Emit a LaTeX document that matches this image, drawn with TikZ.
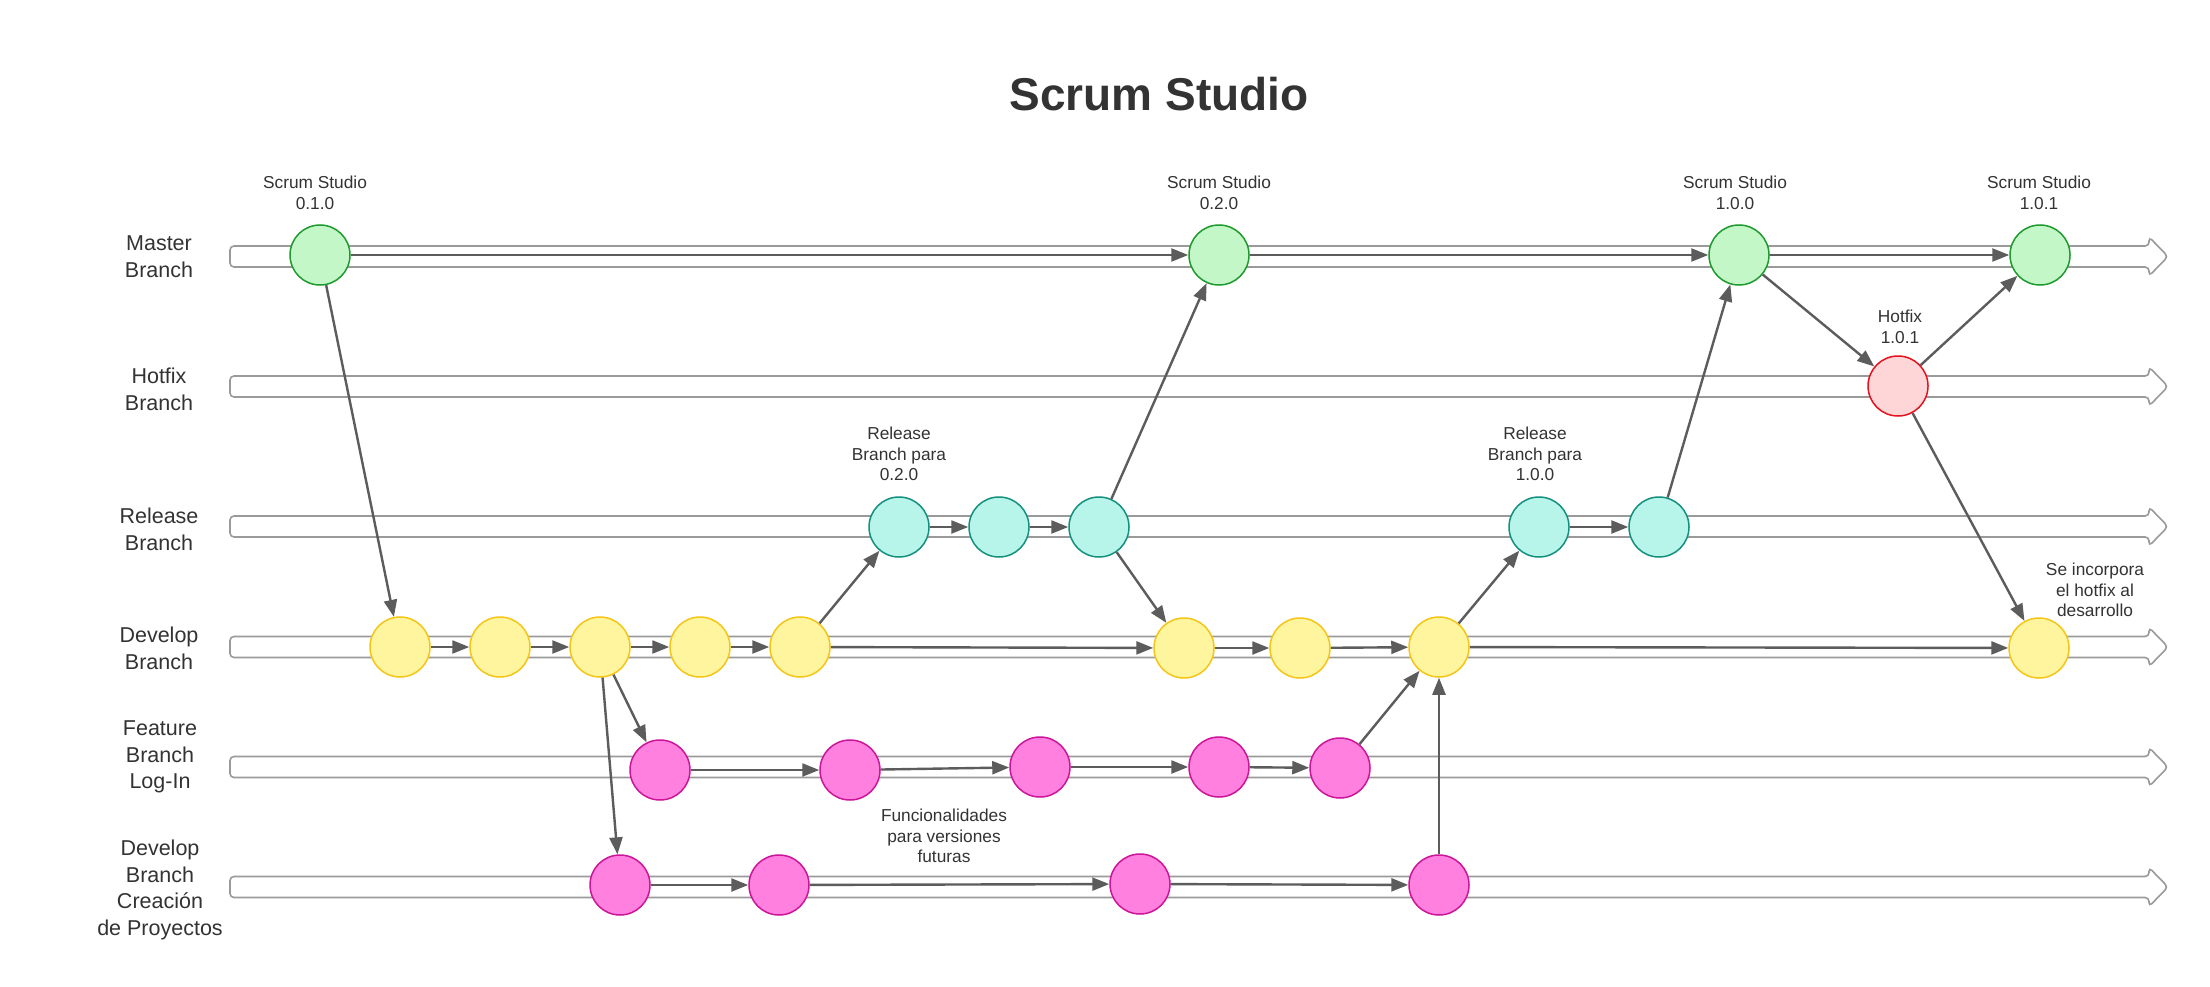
\documentclass[tikz,border=0pt]{standalone}
\usepackage{fontspec}
\setmainfont{Liberation Sans}
\usetikzlibrary{arrows.meta}
\definecolor{txt}{HTML}{333333}
\definecolor{lanegray}{HTML}{9A9A9A}
\definecolor{conn}{HTML}{5C5C5C}
\definecolor{gfill}{HTML}{C3F7C8}\definecolor{gdraw}{HTML}{1E9A2E}
\definecolor{hfill}{HTML}{FFD6D8}\definecolor{hdraw}{HTML}{E4121E}
\definecolor{cfill}{HTML}{B7F4EA}\definecolor{cdraw}{HTML}{14907F}
\definecolor{yfill}{HTML}{FFF59E}\definecolor{ydraw}{HTML}{F5C518}
\definecolor{mfill}{HTML}{FF80DE}\definecolor{mdraw}{HTML}{CC1599}
\tikzset{
  commit/.style={circle, minimum size=60pt, inner sep=0pt, line width=1.5pt},
  gnode/.style={commit, fill=gfill, draw=gdraw},
  hnode/.style={commit, fill=hfill, draw=hdraw},
  cnode/.style={commit, fill=cfill, draw=cdraw},
  ynode/.style={commit, fill=yfill, draw=ydraw},
  mnode/.style={commit, fill=mfill, draw=mdraw},
  lanebox/.style={draw=lanegray, fill=white, line width=1.6pt, rounded corners=4pt},
  conn/.style={draw=conn, line width=2.4pt, -{Triangle[length=17pt,width=13pt]}},
  lbl/.style={text=txt, align=center, inner sep=0pt, font=\fontsize{17.3}{20.5}\selectfont},
  lanelbl/.style={text=txt, align=center, inner sep=0pt, font=\fontsize{21.5}{26.7}\selectfont},
}
\newcommand{\lane}[1]{%
  \path[lanebox] (230,#1-10.5) -- (2149,#1-10.5) -- (2149,#1-19.5) -- (2168,#1) -- (2149,#1+19.5) -- (2149,#1+10.5) -- (230,#1+10.5) -- cycle;}
\begin{document}
\begin{tikzpicture}[x=1pt,y=-1pt]
\useasboundingbox (0,0) rectangle (2210,987);
\fill[white] (0,0) rectangle (2210,987);
% title
\node[text=txt, font=\fontsize{46}{52}\selectfont\bfseries, inner sep=0pt] (title) at (1159,94) {Scrum Studio};
% lanes
\lane{256.5}
\lane{386.5}
\lane{526.5}
\lane{647}
\lane{767}
\lane{887}
% lane labels
\node[lanelbl] (lmaster) at (159,257) {Master\\Branch};
\node[lanelbl] (lhotfix) at (159,389) {Hotfix\\Branch};
\node[lanelbl] (lrelease) at (159,529) {Release\\Branch};
\node[lanelbl] (ldevelop) at (159,648) {Develop\\Branch};
\node[lanelbl] (lfeature) at (160,757) {Feature\\Branch\\Log-In};
\node[lanelbl] (lcrea) at (160,890) {Develop\\Branch\\Creación\\de Proyectos};
% master
\node[gnode] (M1) at (320,255) {};
\node[gnode] (M2) at (1219,255) {};
\node[gnode] (M3) at (1739,255) {};
\node[gnode] (M4) at (2040,255) {};
% hotfix
\node[hnode] (H1) at (1898,386) {};
% release
\node[cnode] (R1) at (899,527) {};
\node[cnode] (R2) at (999,527) {};
\node[cnode] (R3) at (1099,527) {};
\node[cnode] (R4) at (1539,527) {};
\node[cnode] (R5) at (1659,527) {};
% develop
\node[ynode] (D1) at (400,647) {};
\node[ynode] (D2) at (500,647) {};
\node[ynode] (D3) at (600,647) {};
\node[ynode] (D4) at (700,647) {};
\node[ynode] (D5) at (800,647) {};
\node[ynode] (D6) at (1184,648) {};
\node[ynode] (D7) at (1300,648) {};
\node[ynode] (D8) at (1439,647) {};
\node[ynode] (D9) at (2039,648) {};
% feature
\node[mnode] (F1) at (660,770) {};
\node[mnode] (F2) at (850,770) {};
\node[mnode] (F3) at (1040,767) {};
\node[mnode] (F4) at (1219,767) {};
\node[mnode] (F5) at (1340,768) {};
% creacion
\node[mnode] (C1) at (620,885) {};
\node[mnode] (C2) at (779,885) {};
\node[mnode] (C3) at (1140,884) {};
\node[mnode] (C4) at (1439,885) {};
% labels
\node[lbl] (tM1) at (315,193) {Scrum Studio\\0.1.0};
\node[lbl] (tM2) at (1219,193) {Scrum Studio\\0.2.0};
\node[lbl] (tM3) at (1735,193) {Scrum Studio\\1.0.0};
\node[lbl] (tM4) at (2039,193) {Scrum Studio\\1.0.1};
\node[lbl] (tH1) at (1900,327) {Hotfix\\1.0.1};
\node[lbl] (tR1) at (899,454) {Release\\Branch para\\0.2.0};
\node[lbl] (tR4) at (1535,454) {Release\\Branch para\\1.0.0};
\node[lbl] (tD9) at (2095,590) {Se incorpora\\el hotfix al\\desarrollo};
\node[lbl] (tF) at (944,836) {Funcionalidades\\para versiones\\futuras};
% connectors
\draw[conn] (M1) -- (M2);
\draw[conn] (M2) -- (M3);
\draw[conn] (M3) -- (M4);
\draw[conn] (M1) -- (D1);
\draw[conn] (M3) -- (H1);
\draw[conn] (H1) -- (M4);
\draw[conn] (H1) -- (D9);
\draw[conn] (R1) -- (R2);
\draw[conn] (R2) -- (R3);
\draw[conn] (R3) -- (M2);
\draw[conn] (R3) -- (D6);
\draw[conn] (R4) -- (R5);
\draw[conn] (R5) -- (M3);
\draw[conn] (D1) -- (D2);
\draw[conn] (D2) -- (D3);
\draw[conn] (D3) -- (D4);
\draw[conn] (D4) -- (D5);
\draw[conn] (D5) -- (R1);
\draw[conn] (D5) -- (D6);
\draw[conn] (D6) -- (D7);
\draw[conn] (D7) -- (D8);
\draw[conn] (D8) -- (R4);
\draw[conn] (D8) -- (D9);
\draw[conn] (D3) -- (F1);
\draw[conn] (D3) -- (C1);
\draw[conn] (F1) -- (F2);
\draw[conn] (F2) -- (F3);
\draw[conn] (F3) -- (F4);
\draw[conn] (F4) -- (F5);
\draw[conn] (F5) -- (D8);
\draw[conn] (C1) -- (C2);
\draw[conn] (C2) -- (C3);
\draw[conn] (C3) -- (C4);
\draw[conn] (C4) -- (D8);
\end{tikzpicture}
\end{document}
